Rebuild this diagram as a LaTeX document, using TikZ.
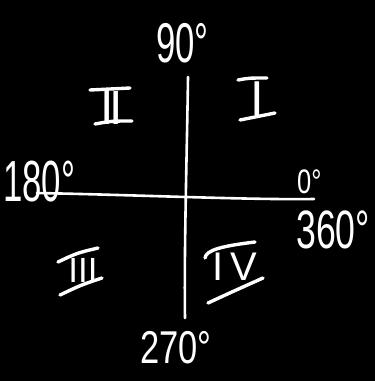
\documentclass[tikz,border=0pt]{standalone}
\usepackage{fontspec}
\setmainfont{Liberation Sans}
\begin{document}
\begin{tikzpicture}[x=1pt,y=-1pt,line cap=round,line join=round,
  ax/.style={draw=white,line width=2.6pt},
  bar/.style={draw=white,line width=3.4pt},
  deg/.style={text=white,inner sep=0pt,anchor=base west},
  num/.style={text=white,inner sep=0pt}]
\fill[black] (0,0) rectangle (375,381);
\useasboundingbox (0,0) rectangle (375,381);
% axes
\coordinate (L) at (37,193);
\coordinate (R) at (314,199);
\coordinate (T) at (188,77);
\coordinate (B) at (185,318);
\draw[ax] (L) .. controls (140,195) and (250,200) .. (R);
\draw[ax] (T) .. controls (187,150) and (184,250) .. (B);
% angle labels
\node[deg,font=\fontsize{56}{56}\selectfont] (a90) at (156,62) {\scalebox{0.62}[1]{90°}};
\node[deg,font=\fontsize{58}{58}\selectfont] (a180) at (3,201) {\scalebox{0.6}[1]{180°}};
\node[deg,font=\fontsize{34}{34}\selectfont] (a0) at (297,193) {\scalebox{0.75}[1]{0°}};
\node[deg,font=\fontsize{54}{54}\selectfont] (a360) at (296,248) {\scalebox{0.66}[1]{360°}};
\node[deg,font=\fontsize{46}{46}\selectfont] (a270) at (140,363) {\scalebox{0.75}[1]{270°}};
% quadrant numerals (stems as text, bars drawn)
\node[num,anchor=base,font=\fontsize{49}{49}\selectfont] (qI) at (257,115) {I};
\node[num,anchor=base,font=\fontsize{48}{48}\selectfont] (qII) at (111.5,124) {I\kern-5ptI};
\node[num,anchor=base,font=\fontsize{35}{35}\selectfont] (qIII) at (83,282) {III};
\node[num,anchor=base west,font=\fontsize{40}{40}\selectfont] (qIV) at (212,280) {I\kern7ptV};
% bars of I
\draw[bar] ([shift={(-19,-35)}]qI.base) .. controls ([shift={(-8,-37)}]qI.base) .. ([shift={(10,-37)}]qI.base);
\draw[bar] ([shift={(-17,5)}]qI.base) .. controls ([shift={(0,1)}]qI.base) .. ([shift={(18,-2)}]qI.base);
% bars of II
\draw[bar] ([shift={(-21.5,-34)}]qII.base) -- ([shift={(18.5,-36)}]qII.base);
\draw[bar] ([shift={(-16.5,0)}]qII.base) .. controls ([shift={(0,-3)}]qII.base) .. ([shift={(20.5,-3)}]qII.base);
% bars of III
\draw[bar] ([shift={(-25,-20)}]qIII.base) .. controls ([shift={(-6,-29)}]qIII.base) .. ([shift={(15,-34)}]qIII.base);
\draw[bar] ([shift={(-23,13)}]qIII.base) .. controls ([shift={(-2,3)}]qIII.base) .. ([shift={(19,-4)}]qIII.base);
% bars of IV
\draw[bar] ([shift={(-7,-22)}]qIV.base west) .. controls ([shift={(-6,-30)}]qIV.base west) and ([shift={(10,-34)}]qIV.base west) .. ([shift={(43,-38)}]qIV.base west);
\draw[bar] ([shift={(-4,23)}]qIV.base west) .. controls ([shift={(22,11)}]qIV.base west) .. ([shift={(51,-2)}]qIV.base west);
\end{tikzpicture}
\end{document}
